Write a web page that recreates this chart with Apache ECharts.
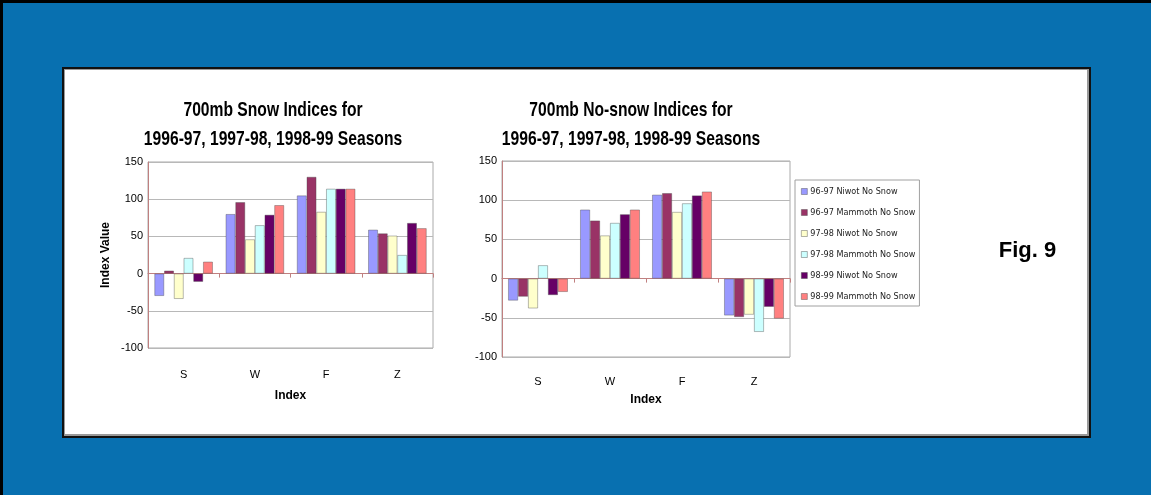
<!DOCTYPE html>
<html>
<head>
<meta charset="utf-8">
<script src="https://cdn.jsdelivr.net/npm/echarts@6/dist/echarts.min.js"></script>
<style>
html,body{margin:0;padding:0;background:#000;}
#c{width:1151px;height:495px;}
</style>
</head>
<body>
<div id="c"></div>
<script>
var categories = ['S', 'W', 'F', 'Z'];
var seriesNames = ['96-97 Niwot No Snow', '96-97 Mammoth No Snow', '97-98 Niwot No Snow', '97-98 Mammoth No Snow', '98-99 Niwot No Snow', '98-99 Mammoth No Snow'];
var colors = ['#9999FF', '#993366', '#FFFFCC', '#CCFFFF', '#660066', '#FF8080'];
var yTicks = [-100, -50, 0, 50, 100, 150];
var leftTitle = '700mb Snow Indices for\n1996-97, 1997-98, 1998-99 Seasons';
var rightTitle = '700mb No-snow Indices for\n1996-97, 1997-98, 1998-99 Seasons';
var xName = 'Index';
var yName = 'Index Value';
var figLabel = 'Fig. 9';

// Left chart: 700mb Snow Indices
var snowNiwot9697 = [-30, 80, 105, 59];
var snowMammoth9697 = [4, 96, 130, 54];
var snowNiwot9798 = [-34, 46, 83, 51];
var snowMammoth9798 = [21, 65, 114, 25];
var snowNiwot9899 = [-11, 79, 114, 68];
var snowMammoth9899 = [16, 92, 114, 61];

// Right chart: 700mb No-snow Indices
var noSnowNiwot9697 = [-28, 88, 107, -47];
var noSnowMammoth9697 = [-23, 74, 109, -49];
var noSnowNiwot9798 = [-38, 55, 85, -46];
var noSnowMammoth9798 = [17, 71, 96, -68];
var noSnowNiwot9899 = [-21, 82, 106, -36];
var noSnowMammoth9899 = [-17, 88, 111, -51];

var snowData = [snowNiwot9697, snowMammoth9697, snowNiwot9798, snowMammoth9798, snowNiwot9899, snowMammoth9899];
var noSnowData = [noSnowNiwot9697, noSnowMammoth9697, noSnowNiwot9798, noSnowMammoth9798, noSnowNiwot9899, noSnowMammoth9899];

var SANS = "'Liberation Sans', Arial, sans-serif";
var NARROW = "'DejaVu Sans Condensed', 'Liberation Sans', sans-serif";

var chart = echarts.init(document.getElementById('c'), null, {renderer: 'canvas'});

function yAxis(gridIndex, nameShow) {
  return {
    gridIndex: gridIndex, type: 'value', min: yTicks[0], max: yTicks[yTicks.length - 1], interval: 50,
    name: nameShow ? yName : '', nameLocation: 'middle', nameGap: 36, nameRotate: 90,
    nameTextStyle: {fontFamily: SANS, fontWeight: 'bold', fontSize: 12, color: '#000'},
    axisLine: {show: true, lineStyle: {color: '#c08080', width: 1}},
    axisTick: {show: false},
    axisLabel: {fontFamily: SANS, fontSize: 11, color: '#000', margin: 5},
    splitLine: {show: true, lineStyle: {color: '#b8b8b8', width: 1}}
  };
}
function xAxisLine(gridIndex) {
  return {
    gridIndex: gridIndex, type: 'category', data: categories,
    axisLine: {show: true, onZero: true, lineStyle: {color: '#c08080', width: 1}},
    axisTick: {show: true, length: 4, lineStyle: {color: '#c08080'}},
    axisLabel: {show: false}, splitLine: {show: false}
  };
}
function xAxisLabels(gridIndex, margin, nameGap) {
  return {
    gridIndex: gridIndex, type: 'category', data: categories, position: 'bottom',
    axisLine: {show: false, onZero: false}, axisTick: {show: false},
    axisLabel: {show: true, fontFamily: SANS, fontSize: 11, color: '#000', margin: margin},
    name: xName, nameLocation: 'middle', nameGap: nameGap,
    nameTextStyle: {fontFamily: SANS, fontWeight: 'bold', fontSize: 12, color: '#000'},
    splitLine: {show: false}
  };
}

var series = [];
seriesNames.forEach(function (n, i) {
  series.push({
    name: n, type: 'bar', xAxisIndex: 0, yAxisIndex: 0, data: snowData[i],
    barGap: '0%', barCategoryGap: '18%',
    itemStyle: {color: colors[i], borderColor: 'rgba(70,70,70,0.55)', borderWidth: 0.7},
    emphasis: {disabled: true}, animation: false
  });
});
seriesNames.forEach(function (n, i) {
  series.push({
    name: n, type: 'bar', xAxisIndex: 2, yAxisIndex: 1, data: noSnowData[i],
    barGap: '0%', barCategoryGap: '17%',
    itemStyle: {color: colors[i], borderColor: 'rgba(70,70,70,0.55)', borderWidth: 0.7},
    emphasis: {disabled: true}, animation: false
  });
});

function titleText(text, cx) {
  return {
    type: 'text', z: 10, x: cx, y: 95.5, scaleX: 0.745, scaleY: 1, silent: true,
    style: {
      text: text, x: 0, y: 0, align: 'center', verticalAlign: 'top',
      textAlign: 'center', textVerticalAlign: 'top',
      font: 'bold 21px ' + SANS, fontFamily: SANS, fontWeight: 'bold', fontSize: 21,
      lineHeight: 29, fill: '#000'
    }
  };
}

var option = {
  animation: false,
  backgroundColor: 'transparent',
  graphic: [
    {type: 'rect', z: -10, shape: {x: 0, y: 0, width: 1151, height: 495}, style: {fill: '#000'}, silent: true},
    {type: 'rect', z: -9, shape: {x: 3, y: 3, width: 1148, height: 492}, style: {fill: '#0870B0'}, silent: true},
    {type: 'rect', z: -8, shape: {x: 62, y: 67, width: 1029, height: 371}, style: {fill: '#111'}, silent: true},
    {type: 'rect', z: -7, shape: {x: 64, y: 69, width: 1025, height: 367}, style: {fill: '#999'}, silent: true},
    {type: 'rect', z: -6, shape: {x: 65, y: 70, width: 1022, height: 364}, style: {fill: '#fff'}, silent: true},
    titleText(leftTitle, 273),
    titleText(rightTitle, 631),
    {type: 'text', z: 10, x: 1027.5, y: 250.5, silent: true,
     style: {text: figLabel, x: 0, y: 0, textAlign: 'center', textVerticalAlign: 'middle', align: 'center', verticalAlign: 'middle',
             fontFamily: SANS, fontWeight: 'bold', fontSize: 22, fill: '#000'}}
  ],
  legend: {
    orient: 'vertical', left: 795, top: 180, width: 123,
    data: seriesNames, icon: 'rect', itemWidth: 6, itemHeight: 6, itemGap: 12,
    padding: [7, 4, 5, 6],
    borderColor: '#a0a0a0', borderWidth: 1, backgroundColor: '#fff',
    textStyle: {fontFamily: NARROW, fontSize: 9, color: '#222', padding: [0, 0, 0, -2]},
    selectedMode: false,
    itemStyle: {borderColor: 'rgba(70,70,70,0.6)', borderWidth: 0.7}
  },
  grid: [
    {left: 148, top: 162, width: 285, height: 186, show: true, borderColor: '#aaaaaa', borderWidth: 1, backgroundColor: 'transparent'},
    {left: 502, top: 161, width: 288, height: 196, show: true, borderColor: '#aaaaaa', borderWidth: 1, backgroundColor: 'transparent'}
  ],
  xAxis: [xAxisLine(0), xAxisLabels(0, 21, 42), xAxisLine(1), xAxisLabels(1, 19, 37)],
  yAxis: [yAxis(0, true), yAxis(1, false)],
  series: series
};
chart.setOption(option);
</script>
</body>
</html>
